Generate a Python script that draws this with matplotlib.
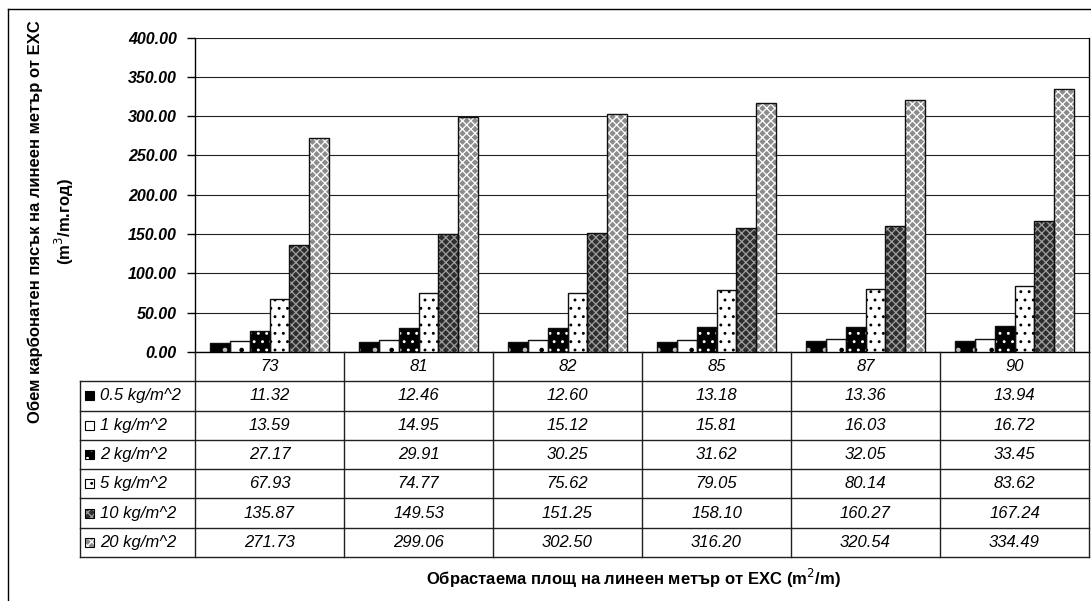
import matplotlib
matplotlib.use("Agg")
import matplotlib.pyplot as plt
from matplotlib.patches import Rectangle
from matplotlib.lines import Line2D
import numpy as np

plt.rcParams['font.family'] = ['Liberation Sans', 'DejaVu Sans']
plt.rcParams['hatch.linewidth'] = 0.9

# ---- data -------------------------------------------------------------
categories = ['73', '81', '82', '85', '87', '90']
series_labels = ['0.5 kg/m^2', '1 kg/m^2', '2 kg/m^2', '5 kg/m^2',
                 '10 kg/m^2', '20 kg/m^2']
vol_0_5 = [11.32, 12.46, 12.60, 13.18, 13.36, 13.94]
vol_1 = [13.59, 14.95, 15.12, 15.81, 16.03, 16.72]
vol_2 = [27.17, 29.91, 30.25, 31.62, 32.05, 33.45]
vol_5 = [67.93, 74.77, 75.62, 79.05, 80.14, 83.62]
vol_10 = [135.87, 149.53, 151.25, 158.10, 160.27, 167.24]
vol_20 = [271.73, 299.06, 302.50, 316.20, 320.54, 334.49]
series = [vol_0_5, vol_1, vol_2, vol_5, vol_10, vol_20]
y_ticks = [0, 50, 100, 150, 200, 250, 300, 350, 400]

# fill colour, hatch pattern, hatch colour for each series
styles = [
    ('black', '.', '#c0c0c0'),
    ('white', '.', 'black'),
    ('black', '..', 'white'),
    ('white', '..', 'black'),
    ('#2e2e2e', 'xxxx', '#a0a0a0'),
    ('#8c8c8c', 'xxxx', 'white'),
]

W, H = 1091, 601
fig = plt.figure(figsize=(W / 100, H / 100), dpi=100)


def fx(px):
    return px / W


def fy(py):
    return 1 - py / H


# outer frame of the chart
fig.add_artist(Line2D([fx(8), fx(8)], [fy(9), fy(H + 5)], color='black', lw=1.0))
fig.add_artist(Line2D([fx(8), fx(W + 5)], [fy(9), fy(9)], color='black', lw=1.0))

# ---- bar plot ---------------------------------------------------------
ax_l, ax_r, ax_t, ax_b = 195, 1089, 37.5, 352
ax = fig.add_axes([fx(ax_l), fy(ax_b), fx(ax_r - ax_l), (ax_b - ax_t) / H])
n = len(series)
bw = 0.134
x = np.arange(len(categories))
for i, (vals, (fc, hatch, hc)) in enumerate(zip(series, styles)):
    pos = x + (i - (n - 1) / 2) * bw
    ax.bar(pos, vals, width=bw, color=fc, edgecolor=hc, hatch=hatch,
           linewidth=0, zorder=3)
    ax.bar(pos, vals, width=bw, fill=False, edgecolor='#101010',
           linewidth=1.0, zorder=4)

ax.set_xlim(-0.5, len(categories) - 0.5)
ax.set_ylim(0, 400)
ax.set_yticks(y_ticks)
ax.set_yticklabels([f'{v:.2f}' for v in y_ticks], fontsize=11.5,
                   fontweight='bold', fontstyle='italic')
ax.set_xticks([])
ax.tick_params(axis='y', length=6, width=1, pad=7, color='black')
ax.grid(axis='y', color='#202020', linewidth=0.8, zorder=0)
ax.set_axisbelow(True)
for s in ['left', 'right', 'bottom']:
    ax.spines[s].set_color('black')
    ax.spines[s].set_linewidth(1.0)
ax.spines['top'].set_visible(False)

# ---- data table -------------------------------------------------------
leg_w = 115 / 149
tb_l, tb_t, tb_b = 80, 352, 557
tab = fig.add_axes([fx(tb_l), fy(tb_b), fx(ax_r - tb_l), (tb_b - tb_t) / H])
x0 = -0.5 - leg_w
tab.set_xlim(x0, len(categories) - 0.5)
nrows = len(series) + 1
tab.set_ylim(nrows, 0)
tab.axis('off')

lc = '#202020'
for r in range(1, nrows + 1):
    tab.plot([x0, len(categories) - 0.5], [r, r], color=lc, lw=1.0,
             clip_on=False)
tab.plot([x0, x0], [1, nrows], color=lc, lw=1.0, clip_on=False)
for k in range(len(categories) + 1):
    tab.plot([k - 0.5, k - 0.5], [0, nrows], color=lc, lw=1.0, clip_on=False)

for j, c in enumerate(categories):
    tab.text(j, 0.5, c, ha='center', va='center', fontsize=12,
             fontstyle='italic')

row_px = (tb_b - tb_t) / nrows
sw_w, sw_h = 9 / 149, 9 / row_px
for i, (lab, vals, (fc, hatch, hc)) in enumerate(zip(series_labels, series, styles)):
    r = i + 1.5
    tab.add_patch(Rectangle((x0 + 5 / 149, r - sw_h / 2), sw_w, sw_h,
                            facecolor=fc, edgecolor=hc, hatch=hatch, lw=0))
    tab.add_patch(Rectangle((x0 + 5 / 149, r - sw_h / 2), sw_w, sw_h,
                            fill=False, edgecolor='black', lw=0.8))
    tab.text(x0 + 20 / 149, r, lab, ha='left', va='center', fontsize=12,
             fontstyle='italic')
    for j, v in enumerate(vals):
        tab.text(j, r, f'{v:.2f}', ha='center', va='center', fontsize=12,
                 fontstyle='italic')

# ---- axis titles ------------------------------------------------------
fig.text(fx(35), fy(222), 'Обем карбонатен пясък на линеен метър от EXC',
         rotation=90, ha='center', va='center', fontsize=12,
         fontweight='bold')
fig.text(fx(64), fy(222), '(m$^3$/m.год)',
         rotation=90, ha='center', va='center', fontsize=12,
         fontweight='bold')
fig.text(fx(633), fy(578),
         'Обрастаема площ на линеен метър от EXC (m$^2$/m)',
         ha='center', va='center', fontsize=12, fontweight='bold')

fig.savefig('out.png', dpi=100)
